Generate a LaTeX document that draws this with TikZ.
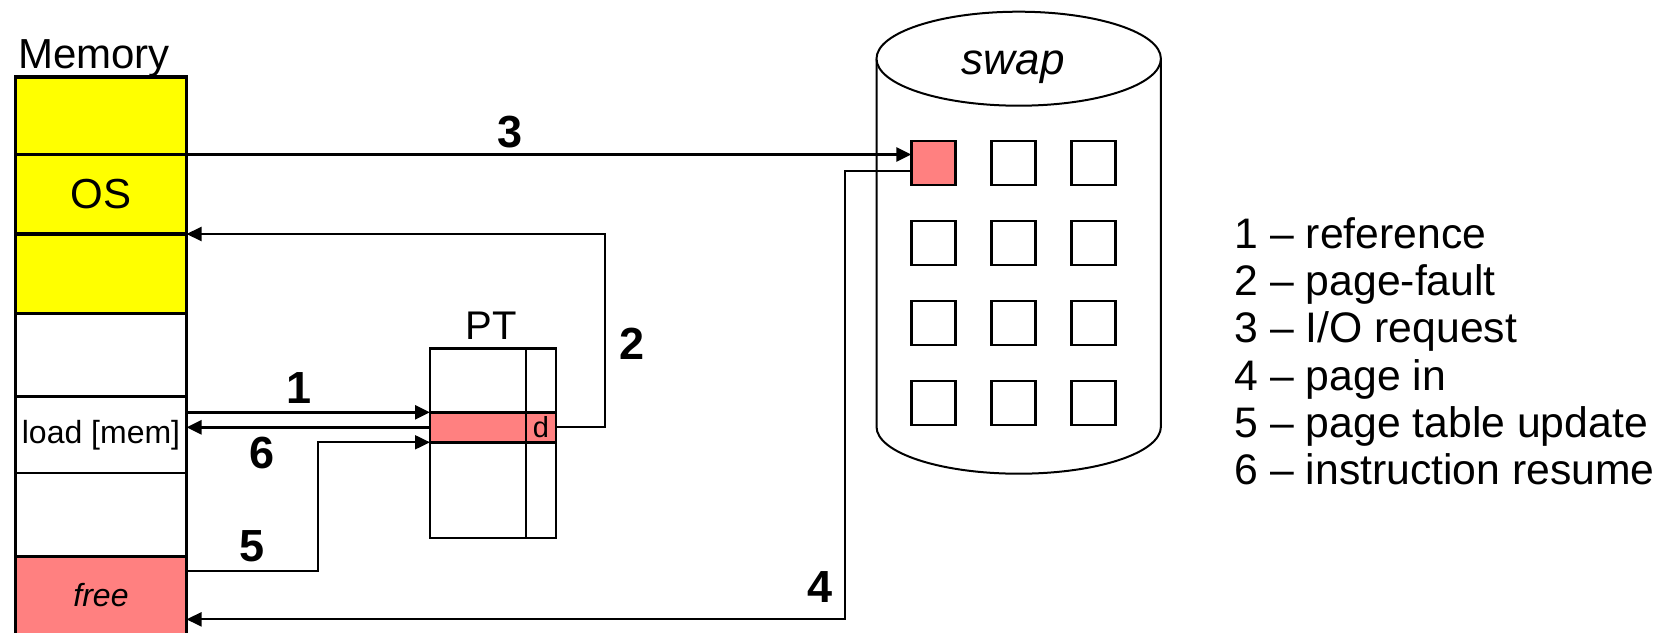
\documentclass[tikz,border=0pt]{standalone}
\usepackage{fontspec}
\setmainfont{Liberation Sans}
\usetikzlibrary{arrows.meta,calc}

\definecolor{osyellow}{HTML}{FFFF00}
\definecolor{pagered}{HTML}{FF8080}

\newcommand\fsMain{\fontsize{42}{50}\selectfont}
\newcommand\fsLegend{\fontsize{42.7}{50}\selectfont}
\newcommand\fsSwap{\fontsize{44}{52}\selectfont}
\newcommand\fsPT{\fontsize{40}{48}\selectfont}
\newcommand\fsCell{\fontsize{32}{38}\selectfont}
\newcommand\fsDirty{\fontsize{29}{34}\selectfont}
\newcommand\fsStep{\fontsize{45}{52}\selectfont\bfseries}

\tikzset{
  memcell/.style={draw, line width=2.7pt, minimum width=171pt, inner sep=0pt,
                  outer sep=0pt, anchor=north west, font=\fsCell},
  oscell/.style={memcell, fill=osyellow, line width=3.2pt},
  ptcell/.style={draw, line width=2.4pt, inner sep=0pt, outer sep=0pt},
  slot/.style={draw, line width=2.7pt, minimum size=44pt, inner sep=0pt,
               outer sep=0pt, fill=white},
  flow/.style={line width=2pt, -{Triangle[length=15pt,width=14pt]}},
  flowthick/.style={flow, line width=2.8pt},
  stepno/.style={font=\fsStep, inner sep=0pt},
  legend/.style={font=\fsLegend, anchor=base west, inner sep=0pt},
}

\begin{document}
\begin{tikzpicture}[x=1pt, y=-1pt]
\useasboundingbox (0,0) rectangle (1670,632);
\fill[white] (0,0) rectangle (1670,632);

% ---------------- physical memory ----------------
\node[font=\fsMain, anchor=base, inner sep=0pt] (memlabel) at (94,68) {Memory};
\node[oscell, minimum height=77.5pt] (m1) at (15.5,77) {};
\node[oscell, minimum height=79.5pt, font=\fsMain] (m2) at (15.5,154.5) {OS};
\node[oscell, minimum height=79.3pt] (m3) at (15.5,234) {};
\node[memcell, minimum height=83.4pt] (m4) at (15.5,313.3) {};
\node[memcell, minimum height=76.3pt] (m5) at (15.5,396.7) {load [mem]};
\node[memcell, minimum height=83.7pt] (m6) at (15.5,473) {};
\node[memcell, minimum height=77.3pt, fill=pagered] (m7) at (15.5,556.7) {\itshape free};

% ---------------- page table ----------------
\node[ptcell, minimum width=126pt, minimum height=189.4pt] (pt) at (493,443) {};
\node[font=\fsPT, anchor=base, inner sep=0pt] (ptlabel) at (491,339.3) {PT};
\node[ptcell, fill=pagered, minimum width=95.7pt, minimum height=30pt] (pr) at (477.85,427.3) {};
\node[ptcell, fill=pagered, minimum width=30.3pt, minimum height=30pt, font=\fsDirty] (pd) at (540.85,427.3) {d};
\draw[line width=2.4pt] (pd.west |- pt.north) -- (pd.west |- pt.south);

% ---------------- swap device ----------------
\draw[line width=2pt, fill=white]
  (876.5,58.7) -- (876.5,426.7) arc[start angle=180, end angle=360, x radius=142.2, y radius=-47]
  -- (1160.9,58.7);
\draw[line width=2pt, fill=white] (1018.7,58.7) ellipse[x radius=142.2, y radius=47];
\node[font=\fsSwap\itshape, anchor=base, inner sep=0pt] (swaplabel) at (1013.3,74) {swap};

\foreach \r in {1,...,4}{
  \foreach \c in {1,...,3}{
    \node[slot] (s\r\c) at ({933.3+80*(\c-1)}, {163+80*(\r-1)}) {};
  }
}
\node[slot, fill=pagered] at (s11) {};

% ---------------- page-fault handling steps ----------------
% 1: reference through the page table
\draw[flowthick] (pr.north west -| m5.east) -- (pr.north west);
\node[stepno] (n1) at (299.3,388.3) {1};
% 2: page fault trap to the OS
\draw[flow] (pd.east) -- ++(49,0) |- (m2.south east);
\node[stepno] (n2) at (631.7,343.3) {2};
% 3: I/O request to the backing store
\draw[flow, line width=2.6pt] (m1.south east) -- (m1.south east -| s11.west);
\node[stepno] (n3) at (510,131.7) {3};
% 4: page brought into the free frame
\draw[flow] ($(s11.west)+(0,8)$) -- ++(-66,0) |- ($(m7.east)+(0,24)$);
\node[stepno] (n4) at (820,586.7) {4};
% 5: page table updated
\draw[flow] ($(m7.east)+(0,-24)$) -- ++(131,0) |- (pr.south west);
\node[stepno] (n5) at (251.7,546.7) {5};
% 6: instruction restarted
\draw[flowthick] (pr.west) -- (pr.west -| m5.east);
\node[stepno] (n6) at (261.7,453) {6};

% ---------------- legend ----------------
\node[legend] (l1) at (1234.5,248.3) {1 – reference};
\node[legend] (l2) at (1234.5,295.5) {2 – page-fault};
\node[legend] (l3) at (1234.5,342.7) {3 – I/O request};
\node[legend] (l4) at (1234.5,390.0) {4 – page in};
\node[legend] (l5) at (1234.5,437.3) {5 – page table update};
\node[legend] (l6) at (1234.5,484.3) {6 – instruction resume};
\end{tikzpicture}
\end{document}
